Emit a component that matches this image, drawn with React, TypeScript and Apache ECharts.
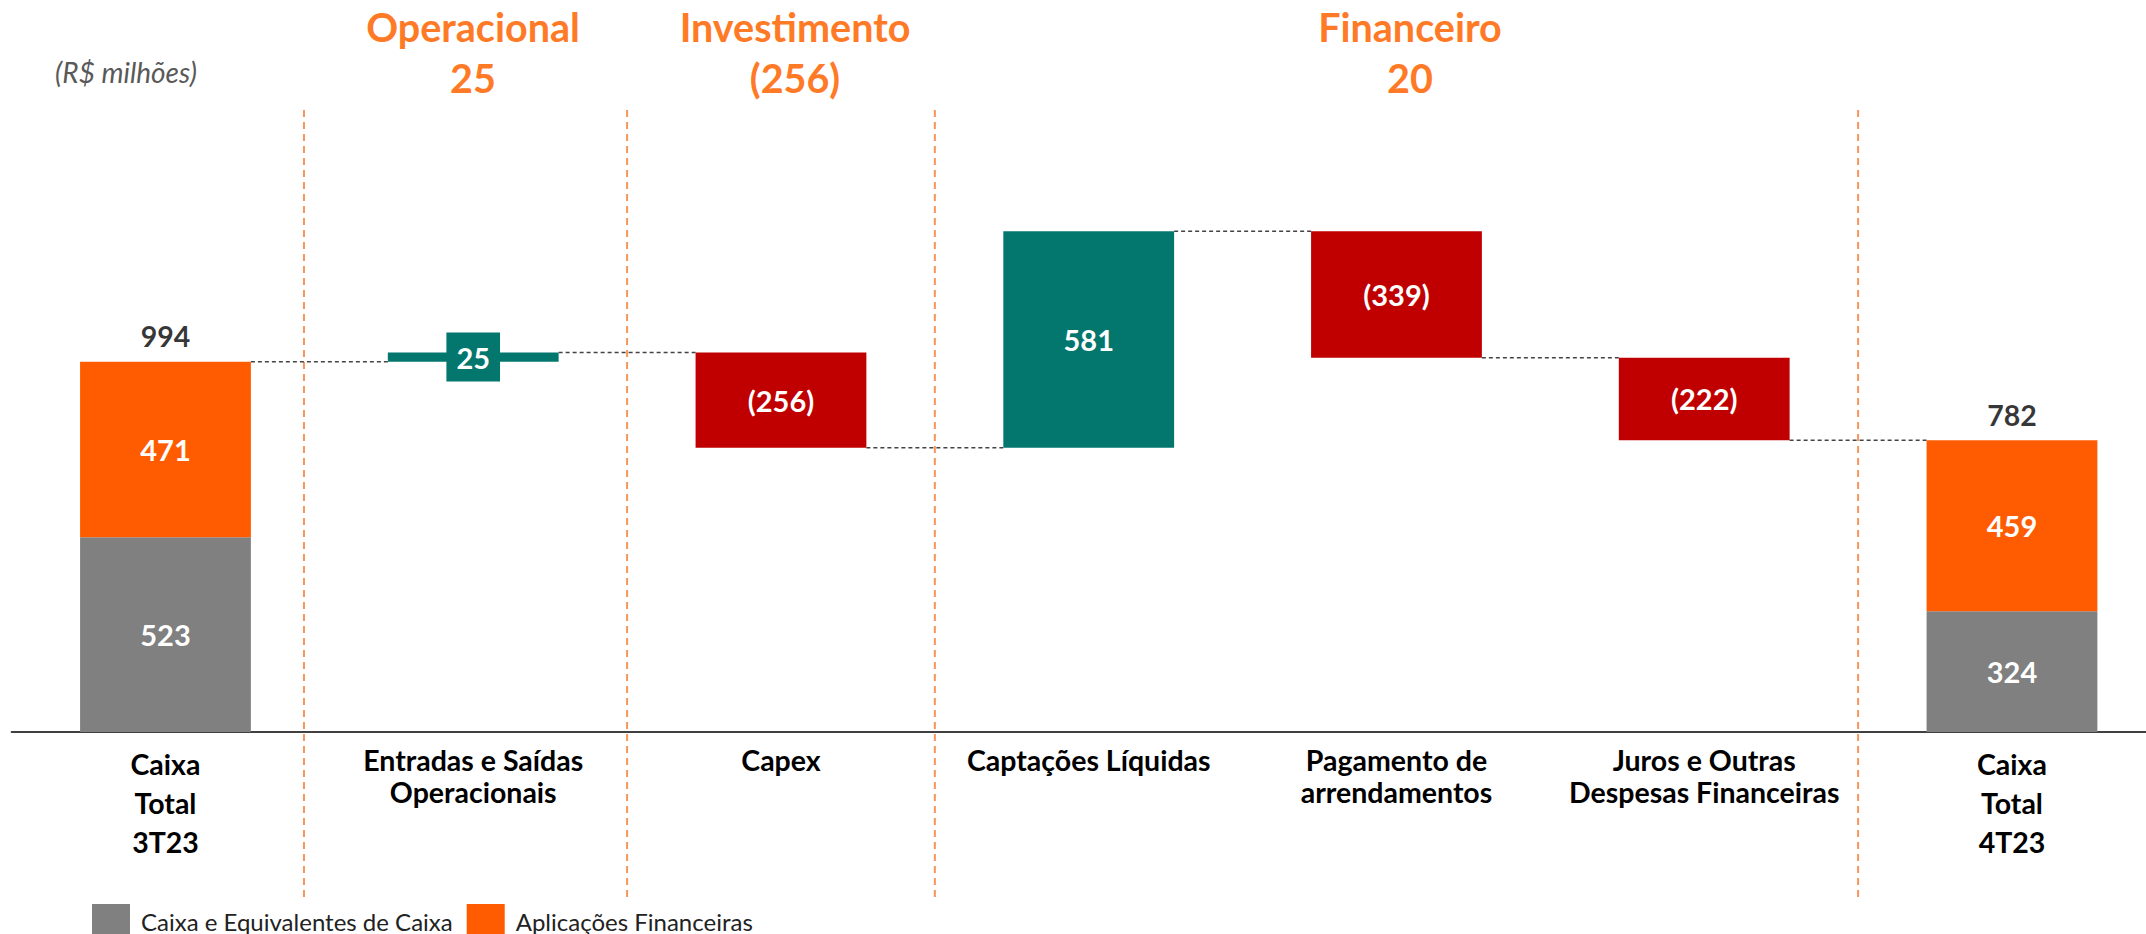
import React, { useEffect, useRef } from "react";
import * as echarts from "echarts";

const categories = [
  "Caixa\nTotal\n3T23",
  "Entradas e Saídas\nOperacionais",
  "Capex",
  "Captações Líquidas",
  "Pagamento de\narrendamentos",
  "Juros e Outras\nDespesas Financeiras",
  "Caixa\nTotal\n4T23",
];
const caixaEquivalentes = [523, null, null, null, null, null, 324];
const aplicacoesFinanceiras = [471, null, null, null, null, null, 459];
const totais = [994, null, null, null, null, null, 782];
const variacoes = [null, 25, -256, 581, -339, -222, null];
const separadores = [0.45, 1.5, 2.5, 5.5];
const cabecalhos = [
  { titulo: "Operacional", valor: "25" },
  { titulo: "Investimento", valor: "(256)" },
  { titulo: "Financeiro", valor: "20" },
];
const unidade = "(R$ milhões)";
const legendaCaixa = "Caixa e Equivalentes de Caixa";
const legendaAplicacoes = "Aplicações Financeiras";

const FONT = "Lato";
const C_GRAY = "#808080";
const C_ORANGE = "#FF5B00";
const C_TEAL = "#03766E";
const C_RED = "#C00000";
const C_HEAD = "#FF7A26";
const BAR_FRAC = 0.555;

export default function App() {
  const ref = useRef<HTMLDivElement>(null);

  useEffect(() => {
    if (!ref.current) return;
    const chart = echarts.init(ref.current, null, { renderer: "svg" });

    const base: any[] = [];
    const delta: any[] = [];
    const levels: number[] = [];
    let level = totais[0] as number;
    levels.push(level);
    for (let i = 0; i < categories.length; i++) {
      const d = variacoes[i];
      if (d === null || d === undefined) {
        base.push("-");
        delta.push("-");
        continue;
      }
      const lo = d >= 0 ? level : level + d;
      base.push(lo);
      const item: any = {
        value: Math.abs(d),
        itemStyle: { color: d >= 0 ? C_TEAL : C_RED },
      };
      if (Math.abs(d) < 60) {
        item.label = {
          backgroundColor: C_TEAL,
          padding: [10, 10, 10, 10],
        };
      }
      delta.push(item);
      level += d;
      if (i < categories.length - 1) levels.push(level);
    }
    const connectors = levels.map((lv, i) => [i, lv]);

    const toNum = (arr: any[]) => arr.map((v) => (v === null ? "-" : v));

    const headerGraphics = cabecalhos.map((h, i) => ({
      type: "text",
      x: [473, 795, 1410][i],
      y: 1,
      style: {
        text: h.titulo + "\n" + h.valor,
        fill: C_HEAD,
        fontFamily: FONT,
        fontSize: 39.5,
        fontWeight: "bold",
        textAlign: "center",
        textVerticalAlign: "top",
        lineHeight: 51,
      },
    }));

    const labelBase = {
      fontFamily: FONT,
      fontSize: 29,
      fontWeight: "bold",
      color: "#fff",
    };

    chart.setOption({
      animation: false,
      backgroundColor: "#ffffff",
      textStyle: { fontFamily: FONT },
      grid: { left: 11.6, width: 2154.25, top: 136, height: 596, containLabel: false },
      legend: {
        data: [legendaCaixa, legendaAplicacoes],
        left: 87,
        top: 899,
        itemWidth: 38,
        itemHeight: 34,
        itemGap: 14,
        icon: "rect",
        textStyle: { fontFamily: FONT, fontSize: 24, color: "#222", padding: [0, 0, 0, 6] },
        selectedMode: false,
      },
      xAxis: [
        {
          type: "category",
          data: categories,
          axisTick: { show: false },
          axisLine: { lineStyle: { color: "#404040", width: 2 } },
          axisLabel: {
            interval: 0,
            margin: 12,
            formatter: (v: string) => {
              const lines = v.split("\n");
              const style = lines.length >= 3 ? "t" : "s";
              return lines.map((l) => `{${style}|${l}}`).join("\n");
            },
            rich: {
              t: { fontFamily: FONT, fontSize: 28.5, fontWeight: "bold", color: "#000", lineHeight: 39 },
              s: { fontFamily: FONT, fontSize: 28.5, fontWeight: "bold", color: "#000", lineHeight: 32 },
            },
          },
        },
        { type: "value", min: -0.5, max: 6.5, show: false },
      ],
      yAxis: {
        type: "value",
        min: 0,
        max: 1600,
        show: false,
        splitLine: { show: false },
      },
      series: [
        {
          name: "sep",
          type: "custom",
          xAxisIndex: 1,
          silent: true,
          z: 1,
          data: separadores.map((s) => [s, 0]),
          renderItem: (params: any, api: any) => {
            const x = api.coord([api.value(0), 0])[0];
            return {
              type: "line",
              shape: { x1: x, y1: 110, x2: x, y2: 899 },
              style: { stroke: "#F7955A", lineWidth: 2, lineDash: [7, 5] },
            };
          },
        },
        {
          name: "conn",
          type: "custom",
          xAxisIndex: 0,
          silent: true,
          z: 2,
          data: connectors,
          renderItem: (params: any, api: any) => {
            const p = api.coord([api.value(0), api.value(1)]);
            const bw = api.size([1, 0])[0];
            const half = (bw * BAR_FRAC) / 2;
            return {
              type: "line",
              shape: { x1: p[0] + half, y1: p[1], x2: p[0] + bw - half, y2: p[1] },
              style: { stroke: "#444", lineWidth: 1.5, lineDash: [4, 3] },
            };
          },
        },
        {
          name: legendaCaixa,
          type: "bar",
          stack: "wf",
          barWidth: BAR_FRAC * 100 + "%",
          itemStyle: { color: C_GRAY },
          z: 3,
          label: { show: true, position: "inside", ...labelBase },
          data: toNum(caixaEquivalentes),
        },
        {
          name: legendaAplicacoes,
          type: "bar",
          stack: "wf",
          itemStyle: { color: C_ORANGE },
          z: 3,
          label: { show: true, position: "inside", ...labelBase },
          data: toNum(aplicacoesFinanceiras),
        },
        {
          name: "base",
          type: "bar",
          stack: "wf",
          silent: true,
          itemStyle: { color: "rgba(0,0,0,0)" },
          data: base,
        },
        {
          name: "delta",
          type: "bar",
          stack: "wf",
          z: 3,
          label: {
            show: true,
            position: "inside",
            ...labelBase,
            formatter: (p: any) => {
              const d = variacoes[p.dataIndex] as number;
              return d < 0 ? `(${Math.abs(d)})` : `${d}`;
            },
          },
          data: delta,
        },
        {
          name: "total",
          type: "scatter",
          symbolSize: 0,
          silent: true,
          z: 4,
          label: {
            show: true,
            position: "top",
            distance: 11,
            fontFamily: FONT,
            fontSize: 28.5,
            fontWeight: "bold",
            color: "#000",
          },
          data: toNum(totais),
        },
      ],
      graphic: [
        {
          type: "text",
          x: 126,
          y: 72,
          style: {
            text: unidade,
            fill: "#595959",
            fontFamily: FONT,
            fontSize: 28,
            fontStyle: "italic",
            textAlign: "center",
            textVerticalAlign: "middle",
          },
        },
        ...headerGraphics,
      ],
    });

    return () => chart.dispose();
  }, []);

  return (
    <div
      style={{
        position: "fixed",
        left: 0,
        top: 0,
        width: 2146,
        height: 934,
        overflow: "hidden",
        background: "#fff",
      }}
    >
      <div ref={ref} style={{ width: 2200, height: 934 }} />
    </div>
  );
}
